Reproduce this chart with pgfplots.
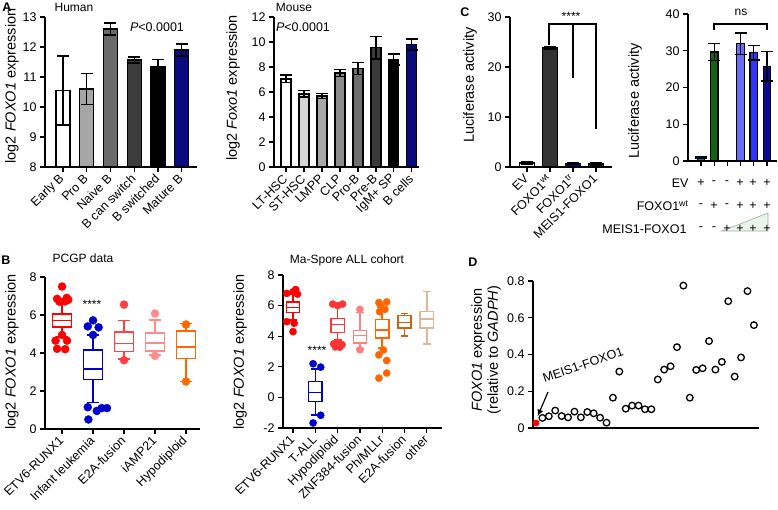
\documentclass[border=0pt]{standalone}
\usepackage{fontspec}
\setmainfont{Liberation Sans}
\usepackage{pgfplots}
\pgfplotsset{compat=1.18}
\usepgfplotslibrary{statistics}
\usetikzlibrary{arrows.meta}

\newcommand{\tickfont}{\fontsize{12.5}{14}\selectfont}
\newcommand{\labfont}{\fontsize{14.5}{16}\selectfont}
\newcommand{\titfont}{\fontsize{12}{14}\selectfont}
\newcommand{\letfont}{\fontsize{12.5}{14}\selectfont\bfseries}

\definecolor{navyb}{HTML}{0A0A80}
\definecolor{a1g1}{HTML}{A6A6A6}
\definecolor{a1g2}{HTML}{6A6A6A}
\definecolor{a1g3}{HTML}{3C3C3C}
\definecolor{a2g1}{HTML}{D4D4D4}
\definecolor{a2g2}{HTML}{A8A8A8}
\definecolor{a2g3}{HTML}{8C8C8C}
\definecolor{a2g4}{HTML}{6E6E6E}
\definecolor{a2g5}{HTML}{3A3A3A}
\definecolor{c1g}{HTML}{333333}
\definecolor{c1r}{HTML}{8B1A1A}
\definecolor{c2t}{HTML}{1A6E7E}
\definecolor{c2g}{HTML}{126312}
\definecolor{c2b1}{HTML}{6B6BF5}
\definecolor{c2b2}{HTML}{3333FF}
\definecolor{c2b3}{HTML}{0A0A8C}
\definecolor{bred}{HTML}{FF0000}
\definecolor{bblue}{HTML}{0000CC}
\definecolor{bred2}{HTML}{FF4040}
\definecolor{bpink}{HTML}{FF8C8C}
\definecolor{borange}{HTML}{FF6600}
\definecolor{bred3}{HTML}{FF3333}
\definecolor{bpink2}{HTML}{FF8080}
\definecolor{bbrown}{HTML}{C86414}
\definecolor{btan}{HTML}{D9B89C}
\definecolor{trifill}{HTML}{EAF5EA}

\pgfplotsset{
  gp/.style={
    scale only axis,
    anchor=south west,
    axis lines=left,
    axis line style={-, line width=1.3pt, black},
    tick align=outside,
    major tick length=5pt,
    tick style={line width=1.3pt, black},
    tick label style={font=\tickfont},
    /pgf/number format/assume math mode=true,
    xticklabel style={rotate=45, anchor=east, inner sep=1pt},
    xticklabel shift=4pt,
    boxplot/draw direction=y,
  },
  gpbar/.style={ybar, bar shift=0pt, draw=black, line width=1.3pt, fill=#1,
    error bars/.cd, y dir=both, y explicit,
    error bar style={line width=1.3pt, black},
    error mark options={rotate=90, line width=1.3pt, black, mark size=6pt}},
  gpbox/.style={draw=#1, line width=1.5pt, fill=white, solid},
}

\begin{document}
\begin{tikzpicture}
\useasboundingbox (0pt,0pt) rectangle (778pt,509pt);

% ---------------- Panel A, Human ----------------
\begin{axis}[gp, at={(45pt,342pt)}, width=152pt, height=150pt,
  xmin=-0.76, xmax=5.65, ymin=8, ymax=13, ytick={8,...,13},
  xtick={0,...,5},
  xticklabels={Early B, Pro B, Naive B, B can switch, B switched, Mature B},
  bar width=14pt]
\addplot[gpbar=white] coordinates {(0,10.55) +- (0,1.15)};
\addplot[gpbar=a1g1] coordinates {(1,10.6) +- (0,0.52)};
\addplot[gpbar=a1g2] coordinates {(2,12.6) +- (0,0.2)};
\addplot[gpbar=a1g3] coordinates {(3,11.57) +- (0,0.1)};
\addplot[gpbar=black] coordinates {(4,11.33) +- (0,0.25)};
\addplot[gpbar=navyb] coordinates {(5,11.9) +- (0,0.2)};
\end{axis}

% ---------------- Panel A, Mouse ----------------
\begin{axis}[gp, at={(274pt,342pt)}, width=145pt, height=150pt,
  xmin=-0.67, xmax=7.4, ymin=0, ymax=12, ytick={0,2,...,12},
  xtick={0,...,7},
  xticklabels={LT-HSC, ST-HSC, LMPP, CLP, Pro-B, Pre-B, IgM+ SP, B cells},
  bar width=10pt]
\addplot[gpbar=white] coordinates {(0,7.05) +- (0,0.3)};
\addplot[gpbar=a2g1] coordinates {(1,5.85) +- (0,0.25)};
\addplot[gpbar=a2g2] coordinates {(2,5.68) +- (0,0.22)};
\addplot[gpbar=a2g3] coordinates {(3,7.52) +- (0,0.3)};
\addplot[gpbar=a2g4] coordinates {(4,7.88) +- (0,0.5)};
\addplot[gpbar=a2g5] coordinates {(5,9.55) +- (0,0.9)};
\addplot[gpbar=black] coordinates {(6,8.6) +- (0,0.45)};
\addplot[gpbar=navyb] coordinates {(7,9.8) +- (0,0.45)};
\end{axis}

% ---------------- Panel C, left ----------------
\begin{axis}[gp, at={(510pt,342pt)}, width=102pt, height=150pt,
  xmin=-0.74, xmax=3.7, ymin=0, ymax=30, ytick={0,10,20,30},
  xtick={0,...,3},
  xticklabels={EV, FOXO1\textsuperscript{wt}, FOXO1\textsuperscript{tr}, MEIS1-FOXO1},
  bar width=15pt]
\addplot[gpbar=white] coordinates {(0,0.8) +- (0,0.2)};
\addplot[gpbar=c1g] coordinates {(1,23.8) +- (0,0.2)};
\addplot[gpbar=navyb] coordinates {(2,0.7) +- (0,0.2)};
\addplot[gpbar=c1r] coordinates {(3,0.6) +- (0,0.2)};
\end{axis}

% ---------------- Panel C, right ----------------
\begin{axis}[gp, at={(688pt,348pt)}, width=89pt, height=147pt,
  xmin=-0.98, xmax=5.76, ymin=0, ymax=40, ytick={0,10,20,30,40},
  xtick={0,...,5}, xticklabels={},
  bar width=7.5pt]
\addplot[gpbar=c2t] coordinates {(0,1.0) +- (0,0.2)};
\addplot[gpbar=c2g] coordinates {(1,29.7) +- (0,2.3)};
\addplot[gpbar=c2b1] coordinates {(3,31.9) +- (0,2.9)};
\addplot[gpbar=c2b2] coordinates {(4,29.5) +- (0,2.0)};
\addplot[gpbar=c2b3] coordinates {(5,25.8) +- (0,4.0)};
\end{axis}

% ---------------- Panel B, PCGP ----------------
\begin{axis}[gp, at={(45pt,80pt)}, width=155pt, height=152pt,
  xmin=-0.55, xmax=4.45, ymin=0, ymax=8, ytick={0,2,...,8},
  xtick={0,...,4},
  xticklabels={ETV6-RUNX1, Infant leukemia, E2A-fusion, iAMP21, Hypodiploid}]
\addplot[gpbox=bred, boxplot prepared={draw position=0, lower whisker=4.85, lower quartile=5.37, median=5.72, upper quartile=6.05, upper whisker=6.65, box extend=0.62, whisker extend=0.4}] coordinates {};
\addplot[only marks, mark=*, mark size=4pt, bred] coordinates {(0,7.5) (-0.16,6.85) (0.15,6.9) (-0.08,6.7) (0.1,6.72) (0.2,6.8) (-0.21,4.65) (0.16,4.65) (-0.16,4.22) (0.1,4.2) (0.0,4.95)};
\addplot[gpbox=bblue, boxplot prepared={draw position=1, lower whisker=1.4, lower quartile=2.6, median=3.15, upper quartile=4.15, upper whisker=4.95, box extend=0.62, whisker extend=0.4}] coordinates {};
\addplot[only marks, mark=*, mark size=4pt, bblue] coordinates {(1,5.72) (0.83,5.4) (1.18,5.35) (1,4.95) (0.83,1.15) (1.12,0.95) (1.28,1.1) (1.45,1.1) (0.85,0.5)};
\addplot[gpbox=bred2, boxplot prepared={draw position=2, lower whisker=3.68, lower quartile=4.08, median=4.5, upper quartile=5.1, upper whisker=5.72, box extend=0.62, whisker extend=0.4}] coordinates {};
\addplot[only marks, mark=*, mark size=4pt, bred2] coordinates {(2,6.55) (2,3.62)};
\addplot[gpbox=bpink, boxplot prepared={draw position=3, lower whisker=3.9, lower quartile=4.1, median=4.52, upper quartile=5.05, upper whisker=5.75, box extend=0.62, whisker extend=0.4}] coordinates {};
\addplot[only marks, mark=*, mark size=4pt, bpink] coordinates {(3,6.08) (3,3.85)};
\addplot[gpbox=borange, boxplot prepared={draw position=4, lower whisker=2.5, lower quartile=3.72, median=4.32, upper quartile=5.15, upper whisker=5.55, box extend=0.62, whisker extend=0.4}] coordinates {};
\addplot[only marks, mark=*, mark size=4pt, borange] coordinates {(4,5.5) (4,2.5)};
\end{axis}

% ---------------- Panel B, Ma-Spore ----------------
\begin{axis}[gp, at={(283pt,81pt)}, width=159pt, height=153pt,
  xmin=-0.45, xmax=6.68, ymin=-2, ymax=8, ytick={-2,0,...,8},
  yticklabels={-2,0,2,4,6,8},
  xtick={0,...,6},
  xticklabels={ETV6-RUNX1, T-ALL, Hypodiploid, ZNF384-fusion, Ph/MLLr, E2A-fusion, other}]
\addplot[gpbox=bred, boxplot prepared={draw position=0, lower whisker=5.07, lower quartile=5.54, median=5.89, upper quartile=6.22, upper whisker=6.76, box extend=0.6, whisker extend=0.35}] coordinates {};
\addplot[only marks, mark=*, mark size=3.6pt, bred] coordinates {(0.12,7.05) (0.0,6.9) (-0.28,6.8) (0.2,6.75) (-0.28,4.95) (0.05,4.85) (0.0,4.3)};
\addplot[gpbox=bblue, boxplot prepared={draw position=1, lower whisker=-1.15, lower quartile=-0.26, median=0.33, upper quartile=1.04, upper whisker=1.85, box extend=0.6, whisker extend=0.35}] coordinates {};
\addplot[only marks, mark=*, mark size=3.6pt, bblue] coordinates {(0.9,2.2) (1.24,1.98) (1.24,-1.17) (0.9,-1.67)};
\addplot[gpbox=bred3, boxplot prepared={draw position=2, lower whisker=3.76, lower quartile=4.24, median=4.78, upper quartile=5.17, upper whisker=6.1, box extend=0.6, whisker extend=0.35}] coordinates {};
\addplot[only marks, mark=*, mark size=3.6pt, bred3] coordinates {(1.78,6.1) (2.22,6.1) (2,6.0) (1.82,3.5) (2.2,3.45) (1.9,3.3) (2.1,3.28) (2,3.6)};
\addplot[gpbox=bpink2, boxplot prepared={draw position=3, lower whisker=3.15, lower quartile=3.54, median=4.05, upper quartile=4.37, upper whisker=5.54, box extend=0.6, whisker extend=0.35}] coordinates {};
\addplot[only marks, mark=*, mark size=3.6pt, bpink2] coordinates {(3,5.76) (3,3.11)};
\addplot[gpbox=borange, boxplot prepared={draw position=4, lower whisker=3.22, lower quartile=3.87, median=4.41, upper quartile=5.1, upper whisker=5.76, box extend=0.6, whisker extend=0.35}] coordinates {};
\addplot[only marks, mark=*, mark size=3.6pt, borange] coordinates {(3.85,6.2) (4.2,6.24) (3.92,6.0) (4.12,5.76) (3.88,5.6) (4.05,3.1) (3.85,2.78) (4.2,2.41) (4.2,1.59) (3.85,1.26)};
\addplot[gpbox=bbrown, boxplot prepared={draw position=5, lower whisker=4.02, lower quartile=4.52, median=4.89, upper quartile=5.35, upper whisker=5.5, box extend=0.6, whisker extend=0.35}] coordinates {};
\addplot[gpbox=btan, boxplot prepared={draw position=6, lower whisker=3.5, lower quartile=4.52, median=5.11, upper quartile=5.61, upper whisker=6.91, box extend=0.6, whisker extend=0.35}] coordinates {};
\end{axis}

% ---------------- Panel D ----------------
\begin{axis}[gp, at={(533pt,81pt)}, width=226pt, height=147pt,
  xmin=-0.47, xmax=34.8, ymin=0, ymax=0.8,
  ytick={0,0.2,0.4,0.6,0.8}, yticklabels={0,0.2,0.4,0.6,0.8},
  xtick=\empty, clip=false]
\addplot[only marks, mark=o, mark size=3.3pt, line width=1.3pt, black] table {
x y
1 0.055
2 0.064
3 0.095
4 0.065
5 0.058
6 0.089
7 0.058
8 0.087
9 0.080
10 0.056
11 0.029
12 0.165
13 0.307
14 0.105
15 0.122
16 0.122
17 0.102
18 0.102
19 0.264
20 0.318
21 0.336
22 0.440
23 0.775
24 0.165
25 0.316
26 0.325
27 0.473
28 0.318
29 0.360
30 0.690
31 0.280
32 0.384
33 0.745
34 0.560
};
\addplot[only marks, mark=*, mark size=3.2pt, red] coordinates {(0,0.027)};
\end{axis}

% ---------------- Texts ----------------
\begin{scope}[x=1pt,y=1pt]
\node[font=\letfont] at (7,502) {A};
\node[font=\titfont] at (74,502) {Human};
\node[font=\titfont] at (294,502) {Mouse};
\node[font=\tickfont] at (157,482) {\textit{P}<0.0001};
\node[font=\tickfont] at (303,482) {\textit{P}<0.0001};
\node[rotate=90, font=\labfont] at (12,423) {log2 \textit{FOXO1} expression};
\node[rotate=90, font=\labfont] at (233,421) {log2 \textit{Foxo1} expression};

\node[font=\letfont] at (465,497) {C};
\node[rotate=90, font=\labfont] at (470,424) {Luciferase activity};
\node[rotate=90, font=\labfont] at (635,408) {Luciferase activity};
\draw[line width=1.2pt] (549,464) -- (549,485) -- (596,485) -- (596,380);
\draw[line width=1.2pt] (573,485) -- (573,431);
\node[font=\titfont] at (571,493) {****};
\draw[line width=1.2pt] (714,479) -- (714,485) -- (767,485) -- (767,479);
\node[font=\titfont] at (741,497) {ns};
\fill[trifill, draw=gray!70, line width=0.6pt] (722,278) -- (768,296) -- (768,278) -- cycle;
\node[font=\tickfont, anchor=east] at (692,326) {EV};
\node[font=\tickfont, anchor=east] at (692,303) {FOXO1\textsuperscript{wt}};
\node[font=\tickfont, anchor=east] at (690,280) {MEIS1-FOXO1};
\foreach \xx/\s in {701/+,714/-,727/-,740/+,753/+,767/+} {\node[font=\tickfont] at (\xx,326) {\s};}
\foreach \xx/\s in {701/-,714/+,727/-,740/+,753/+,767/+} {\node[font=\tickfont] at (\xx,303) {\s};}
\foreach \xx/\s in {701/-,714/-,727/+,740/+,753/+,767/+} {\node[font=\tickfont] at (\xx,280) {\s};}

\node[font=\letfont] at (6,249) {B};
\node[font=\titfont] at (83,251) {PCGP data};
\node[font=\titfont] at (347,249) {Ma-Spore ALL cohort};
\node[rotate=90, font=\labfont] at (12,157) {log2 \textit{FOXO1} expression};
\node[rotate=90, font=\labfont] at (240,157) {log2 \textit{FOXO1} expression};
\node[font=\titfont] at (92,205) {****};
\node[font=\titfont] at (317,159) {****};

\node[font=\letfont] at (473,247) {D};
\node[rotate=90, font=\labfont, align=center] at (486,159) {\textit{FOXO1} expression\\(relative to \textit{GADPH})};
\node[rotate=19, font=\tickfont] at (583,144) {MEIS1-FOXO1};
\draw[line width=1.2pt, -{Latex[length=7pt,width=6pt]}] (548,117) -- (537.5,92.5);
\end{scope}
\end{tikzpicture}
\end{document}
